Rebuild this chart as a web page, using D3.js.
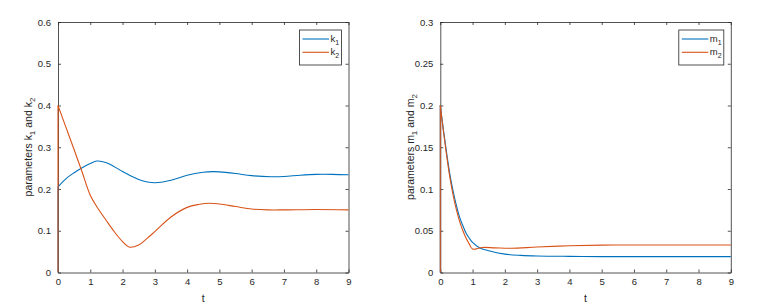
<!DOCTYPE html>
<html>
<head>
<meta charset="utf-8">
<script src="https://cdn.jsdelivr.net/npm/d3@7"></script>
<style>
  body { margin: 0; background: #fff; }
  svg { display: block; font-family: "Liberation Sans", Arial, sans-serif; }
</style>
</head>
<body>
<svg id="vis" width="780" height="305"></svg>
<script>
// values (t, value); each series jumps up from 0 at t=0
const kT  = [0, 0.25, 0.5, 0.75, 1, 1.2, 1.5, 2, 2.5, 3, 3.5, 4, 4.5, 4.8, 5, 5.5, 6, 6.6, 7, 7.5, 8, 8.5, 9];
const k1  = [0.205, 0.225, 0.239, 0.251, 0.261, 0.267, 0.263, 0.242, 0.223, 0.215, 0.221, 0.233, 0.240, 0.2415, 0.241, 0.237, 0.232, 0.2295, 0.230, 0.233, 0.235, 0.235, 0.234];
const k2T = [0, 0.25, 0.5, 0.75, 1, 1.25, 1.5, 1.75, 2, 2.2, 2.5, 2.75, 3, 3.5, 4, 4.35, 4.7, 5, 5.5, 6, 6.5, 7, 8, 9];
const k2  = [0.400, 0.347, 0.294, 0.240, 0.185, 0.152, 0.124, 0.097, 0.074, 0.061, 0.066, 0.081, 0.098, 0.133, 0.156, 0.163, 0.166, 0.164, 0.158, 0.152, 0.150, 0.150, 0.151, 0.150];

const mT  = [0, 0.1, 0.2, 0.3, 0.4, 0.5, 0.6, 0.7, 0.8, 0.9, 1, 1.2, 1.5, 2, 2.5, 3, 4, 5, 6, 7, 8, 9];
const m1  = [0.2, 0.170, 0.142, 0.117, 0.097, 0.080, 0.066, 0.056, 0.047, 0.041, 0.036, 0.030, 0.026, 0.022, 0.0205, 0.0198, 0.0193, 0.019, 0.019, 0.019, 0.019, 0.019];
const m2T = [0, 0.1, 0.2, 0.3, 0.4, 0.5, 0.6, 0.7, 0.8, 0.9, 1, 1.3, 1.7, 2.2, 3, 4, 5, 6, 7, 8, 9];
const m2  = [0.2, 0.168, 0.139, 0.113, 0.092, 0.075, 0.061, 0.050, 0.041, 0.034, 0.028, 0.030, 0.0295, 0.029, 0.0305, 0.032, 0.0328, 0.033, 0.033, 0.033, 0.033];

const xTicks = [0, 1, 2, 3, 4, 5, 6, 7, 8, 9];
const kTicks = [0, 0.1, 0.2, 0.3, 0.4, 0.5, 0.6];
const mTicks = [0, 0.05, 0.1, 0.15, 0.2, 0.25, 0.3];

const BLUE = "#0072BD", ORANGE = "#D95319", INK = "#262626";
const svg = d3.select("#vis");

function panel(opt) {
    const x = d3.scaleLinear().domain([0, 9]).range([opt.left, opt.right]);
    const y = d3.scaleLinear().domain([0, opt.ymax]).range([272.5, 22]);
    const g = svg.append("g");

    // frame ticks on all four sides, pointing inward
    g.append("g").attr("transform", "translate(0,272.5)")
        .call(d3.axisBottom(x).tickValues(xTicks).tickSizeInner(-3).tickSizeOuter(0).tickPadding(6).tickFormat(d3.format("d")));
    g.append("g").attr("transform", "translate(0,22)")
        .call(d3.axisTop(x).tickValues(xTicks).tickSizeInner(-3).tickSizeOuter(0).tickFormat(""));
    g.append("g").attr("transform", `translate(${opt.left},0)`)
        .call(d3.axisLeft(y).tickValues(opt.ticks).tickSizeInner(-3).tickSizeOuter(0).tickPadding(7).tickFormat(d => d === 0 ? "0" : d3.format("")(d)));
    g.append("g").attr("transform", `translate(${opt.right},0)`)
        .call(d3.axisRight(y).tickValues(opt.ticks).tickSizeInner(-3).tickSizeOuter(0).tickFormat(""));
    g.selectAll(".domain").attr("stroke", INK).attr("stroke-width", 0.8);
    g.selectAll(".tick line").attr("stroke", INK).attr("stroke-width", 0.8);
    g.selectAll(".tick text").attr("fill", INK).style("font-size", "9.5px");

    const line = d3.line().x(d => x(d[0])).y(d => y(d[1])).curve(d3.curveCatmullRom.alpha(0.5));
    opt.series.forEach(s => {
        // jump from 0 at t=0
        g.append("line")
            .attr("x1", x(0)).attr("x2", x(0)).attr("y1", y(0)).attr("y2", y(s.v[0]))
            .attr("stroke", s.color).attr("stroke-width", 1.1);
        g.append("path")
            .datum(d3.zip(s.t, s.v))
            .attr("fill", "none").attr("stroke", s.color).attr("stroke-width", 1.1)
            .attr("d", line);
    });

    // axis labels
    g.append("text").attr("x", (opt.left + opt.right) / 2).attr("y", 302)
        .attr("text-anchor", "middle").attr("fill", INK).style("font-size", "10.5px").text("t");
    const yl = g.append("text")
        .attr("transform", `translate(${opt.left - 26},147) rotate(-90)`)
        .attr("text-anchor", "middle").attr("fill", INK).style("font-size", "10.5px");
    yl.append("tspan").text("parameters " + opt.sym);
    yl.append("tspan").attr("dy", 3).style("font-size", "8px").text("1");
    yl.append("tspan").attr("dy", -3).text(" and " + opt.sym);
    yl.append("tspan").attr("dy", 3).style("font-size", "8px").text("2");

    // legend
    const lx = opt.right - opt.legW - 7;
    const lg = g.append("g").attr("transform", `translate(${lx},30)`);
    lg.append("rect").attr("width", opt.legW).attr("height", 35)
        .attr("fill", "#fff").attr("stroke", INK).attr("stroke-width", 0.8);
    opt.series.forEach((s, i) => {
        const yy = 9 + i * 13.3;
        lg.append("line").attr("x1", 3).attr("x2", 29.5).attr("y1", yy).attr("y2", yy)
            .attr("stroke", s.color).attr("stroke-width", 1.1);
        const t = lg.append("text").attr("x", 31).attr("y", yy + 3).attr("fill", INK).style("font-size", "9.5px");
        t.append("tspan").text(s.name);
        t.append("tspan").attr("dy", 2.5).style("font-size", "7px").text(s.sub);
    });
}

panel({
    left: 58, right: 348.5, ymax: 0.6, ticks: kTicks, sym: "k", legW: 42,
    series: [
        { t: kT, v: k1, color: BLUE, name: "k", sub: "1" },
        { t: k2T, v: k2, color: ORANGE, name: "k", sub: "2" }
    ]
});
panel({
    left: 440.3, right: 730.8, ymax: 0.3, ticks: mTicks, sym: "m", legW: 45,
    series: [
        { t: mT, v: m1, color: BLUE, name: "m", sub: "1" },
        { t: m2T, v: m2, color: ORANGE, name: "m", sub: "2" }
    ]
});
</script>
</body>
</html>
